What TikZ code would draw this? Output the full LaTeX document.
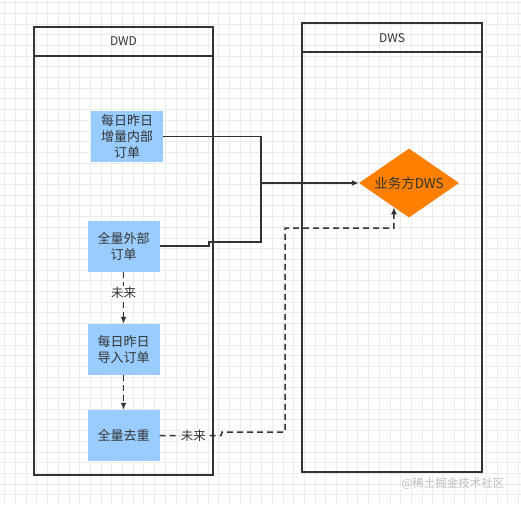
\documentclass[tikz,border=0pt]{standalone}
\usepackage{fontspec}
\setmainfont{Noto Sans CJK SC}
\usetikzlibrary{arrows.meta,shapes.geometric,calc}
\definecolor{ink}{HTML}{333333}
\definecolor{boxblue}{HTML}{99CCFF}
\definecolor{bizorange}{HTML}{FF8000}
\definecolor{gridgray}{HTML}{EBEBEB}
\begin{document}
\begin{tikzpicture}[x=1pt,y=-1pt,
  lane/.style={draw=ink, line width=1.7pt},
  box/.style={fill=boxblue, text=ink, minimum width=72pt, minimum height=51pt, align=center, font=\fontsize{13}{16}\selectfont, inner sep=0pt},
  biz/.style={diamond, fill=bizorange, text=ink, minimum width=100pt, minimum height=69pt, aspect=1.45, inner sep=0pt, font=\fontsize{13.5}{15}\selectfont},
  flow/.style={draw=ink, line width=1.5pt},
  dflow/.style={draw=ink, line width=1.5pt, dash pattern=on 6pt off 4pt},
  lbl/.style={fill=white, text=ink, inner sep=1pt, font=\fontsize{12.5}{14}\selectfont}]
\useasboundingbox (0,0) rectangle (521,504);
\fill[white] (0,0) rectangle (521,504);
% grid
\foreach \i in {0,...,48} \draw[gridgray, line width=0.7pt] (4.7+10.7*\i,0) -- (4.7+10.7*\i,504);
\foreach \i in {0,...,47} \draw[gridgray, line width=0.7pt] (0,2.5+10.7*\i) -- (521,2.5+10.7*\i);
% lanes
\draw[lane] (34,27) rectangle (213,475);
\draw[lane] (34,56) -- (213,56);
\node[text=ink, font=\fontsize{12}{14}\selectfont] (dwd) at (123.5,41.5) {DWD};
\draw[lane] (302,23) rectangle (482,472);
\draw[lane] (302,52) -- (482,52);
\node[text=ink, font=\fontsize{12}{14}\selectfont] (dws) at (392,38) {DWS};
% nodes
\node[box] (inc) at (127,136.5) {每日昨日\\增量内部\\订单};
\node[box] (full) at (123.5,246) {全量外部\\订单};
\node[box] (daily) at (123.5,349.5) {每日昨日\\导入订单};
\node[box] (dedup) at (123.5,435.5) {全量去重};
\node[biz] (target) at (409,183) {业务方DWS};
% solid links
\coordinate (j) at (261,183);
\draw[flow] (inc.east) -| (j);
\draw[flow] (full.east) -- (209,246) -- (209,242) -| (j);
\draw[flow, -{Latex[length=7pt,width=6pt]}] (j) -- (target.west);
% dashed links
\draw[dflow, -{Latex[length=7pt,width=6pt]}] (full.south) -- node[lbl, pos=0.4] {未来} (daily.north);
\draw[dflow, -{Latex[length=7pt,width=6pt]}] (daily.south) -- (dedup.north);
\coordinate (hit) at ($(target.west)!0.7!(target.south)$);
\draw[dflow, -{Latex[length=7pt,width=6pt]}] (dedup.east) -- node[lbl, pos=0.55] {未来} (221,435.5) -- (222,432) -- (285,432) -- (285,228) -| (hit);
% watermark
\node[text=black!25, font=\fontsize{11.5}{13}\selectfont, anchor=east] (mark) at (508,484) {@稀土掘金技术社区};
\end{tikzpicture}
\end{document}
